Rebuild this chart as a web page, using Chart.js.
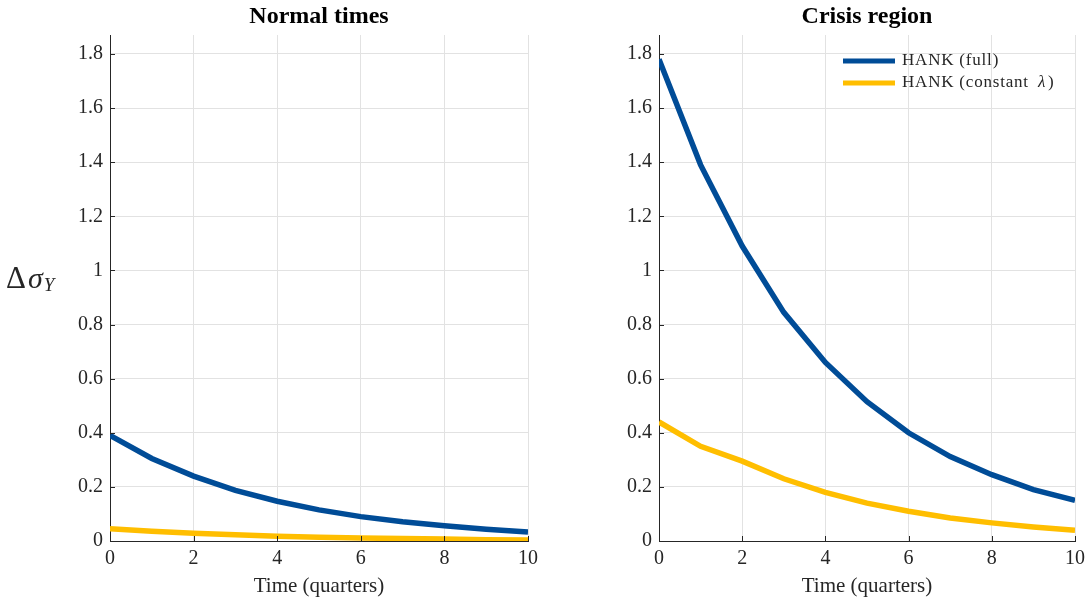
<!DOCTYPE html>
<html>
<head>
<meta charset="utf-8">
<script src="https://cdn.jsdelivr.net/npm/chart.js@4/dist/chart.umd.min.js"></script>
<style>
    body { margin: 0; background: #fff; width: 1091px; height: 603px; overflow: hidden; position: relative; }
    .panel { position: absolute; top: 0; height: 603px; }
    #left { left: 0; width: 545px; }
    #right { left: 545px; width: 546px; }
</style>
</head>
<body>
<div class="panel" id="left"><canvas id="normalChart"></canvas></div>
<div class="panel" id="right"><canvas id="crisisChart"></canvas></div>
<script>
const quarters = [0, 1, 2, 3, 4, 5, 6, 7, 8, 9, 10];
const normalFull = [0.39, 0.305, 0.24, 0.187, 0.147, 0.115, 0.09, 0.071, 0.056, 0.043, 0.033];
const normalConst = [0.045, 0.036, 0.029, 0.023, 0.018, 0.014, 0.011, 0.009, 0.007, 0.005, 0.004];
const crisisFull = [1.78, 1.39, 1.09, 0.845, 0.66, 0.515, 0.40, 0.312, 0.245, 0.19, 0.15];
const crisisConst = [0.44, 0.35, 0.295, 0.23, 0.18, 0.14, 0.11, 0.085, 0.067, 0.052, 0.04];
const seriesLabels = ['HANK (full)', 'HANK (constant λ)'];
const panelTitles = ['Normal times', 'Crisis region'];
const yTicks = [0, 0.2, 0.4, 0.6, 0.8, 1, 1.2, 1.4, 1.6, 1.8];
const xLabel = 'Time (quarters)';

const blue = '#004C97';
const yellow = '#FFBE00';
const ink = '#262626';
const serif = "'Liberation Serif', 'Times New Roman', serif";

function toPoints(values) {
    return quarters.map((q, i) => ({ x: q, y: values[i] }));
}

// titles, y label, inner tick marks and the legend box
const panelDecor = {
    id: 'panelDecor',
    afterDraw(chart, args, opts) {
        const ctx = chart.ctx;
        const area = chart.chartArea;
        const xs = chart.scales.x;
        const ys = chart.scales.y;
        ctx.save();

        // matlab style ticks pointing inwards
        ctx.strokeStyle = ink;
        ctx.lineWidth = 1;
        ctx.beginPath();
        ys.ticks.forEach(t => {
            const py = Math.round(ys.getPixelForValue(t.value)) + 0.5;
            ctx.moveTo(area.left, py);
            ctx.lineTo(area.left + 5, py);
        });
        xs.ticks.forEach(t => {
            const px = Math.round(xs.getPixelForValue(t.value)) + 0.5;
            ctx.moveTo(px, area.bottom);
            ctx.lineTo(px, area.bottom - 5);
        });
        ctx.stroke();

        ctx.fillStyle = '#000';
        ctx.font = 'bold 24px ' + serif;
        ctx.textAlign = 'center';
        ctx.textBaseline = 'alphabetic';
        ctx.fillText(opts.title, (area.left + area.right) / 2, 23);

        if (opts.yLabel) {
            ctx.fillStyle = ink;
            ctx.textAlign = 'left';
            ctx.font = '31px ' + serif;
            ctx.fillText('Δ', 6, 288);
            let x = 6 + ctx.measureText('Δ').width + 2;
            ctx.font = 'italic 30px ' + serif;
            ctx.fillText('σ', x, 288);
            x += ctx.measureText('σ').width + 1;
            ctx.font = 'italic 19px ' + serif;
            ctx.fillText('Y', x, 291);
        }

        if (opts.legend) {
            const rows = chart.data.datasets;
            rows.forEach((ds, i) => {
                const y = 61 + i * 22;
                ctx.strokeStyle = ds.borderColor;
                ctx.lineWidth = 5;
                ctx.beginPath();
                ctx.moveTo(opts.legendX, y);
                ctx.lineTo(opts.legendX + 52, y);
                ctx.stroke();
                ctx.fillStyle = ink;
                ctx.textAlign = 'left';
                ctx.textBaseline = 'middle';
                ctx.letterSpacing = '0.8px';
                ctx.font = '17px ' + serif;
                const label = ds.label;
                const k = label.indexOf('λ');
                let tx = opts.legendX + 59;
                if (k < 0) {
                    ctx.fillText(label, tx, y);
                } else {
                    const head = label.slice(0, k);
                    ctx.fillText(head, tx, y);
                    tx += ctx.measureText(head).width + 4;
                    ctx.font = 'italic 17px ' + serif;
                    ctx.fillText('λ', tx, y);
                    tx += ctx.measureText('λ').width + 2;
                    ctx.font = '17px ' + serif;
                    ctx.fillText(label.slice(k + 1), tx, y);
                }
            });
        }
        ctx.restore();
    }
};

function makeChart(canvasId, full, constant, title, opts) {
    const ctx = document.getElementById(canvasId).getContext('2d');
    return new Chart(ctx, {
        type: 'line',
        data: {
            datasets: [
                { label: seriesLabels[0], data: toPoints(full), borderColor: blue, borderWidth: 5.5, pointRadius: 0, tension: 0, fill: false },
                { label: seriesLabels[1], data: toPoints(constant), borderColor: yellow, borderWidth: 5.5, pointRadius: 0, tension: 0, fill: false }
            ]
        },
        options: {
            responsive: true,
            maintainAspectRatio: false,
            animation: false,
            layout: { padding: { top: 35, right: opts.padRight, left: 0, bottom: 0 } },
            scales: {
                x: {
                    type: 'linear',
                    min: 0,
                    max: 10,
                    afterFit: scale => { scale.height = 62; },
                    ticks: { stepSize: 2, color: ink, padding: 6, font: { family: serif, size: 20 } },
                    grid: { color: '#e2e2e2', drawTicks: false },
                    border: { display: true, color: ink, width: 1 },
                    title: { display: true, text: xLabel, color: ink, padding: { top: 0, bottom: 4 }, font: { family: serif, size: 21 } }
                },
                y: {
                    type: 'linear',
                    min: 0,
                    max: 1.87,
                    afterFit: scale => { scale.width = opts.axisWidth; },
                    afterBuildTicks: scale => { scale.ticks = yTicks.map(v => ({ value: v })); },
                    ticks: {
                        color: ink, padding: 7, font: { family: serif, size: 20 },
                        callback: v => String(parseFloat(v.toFixed(1)))
                    },
                    grid: { color: '#e2e2e2', drawTicks: false },
                    border: { display: true, color: ink, width: 1 }
                }
            },
            plugins: {
                legend: { display: false },
                tooltip: { enabled: false },
                panelDecor: { title: title, yLabel: opts.yLabel, legend: opts.legend, legendX: opts.legendX }
            }
        },
        plugins: [panelDecor]
    });
}

makeChart('normalChart', normalFull, normalConst, panelTitles[0], { padRight: 17, axisWidth: 110, yLabel: true, legend: false });
makeChart('crisisChart', crisisFull, crisisConst, panelTitles[1], { padRight: 14, axisWidth: 114, yLabel: false, legend: true, legendX: 298 });
</script>
</body>
</html>
